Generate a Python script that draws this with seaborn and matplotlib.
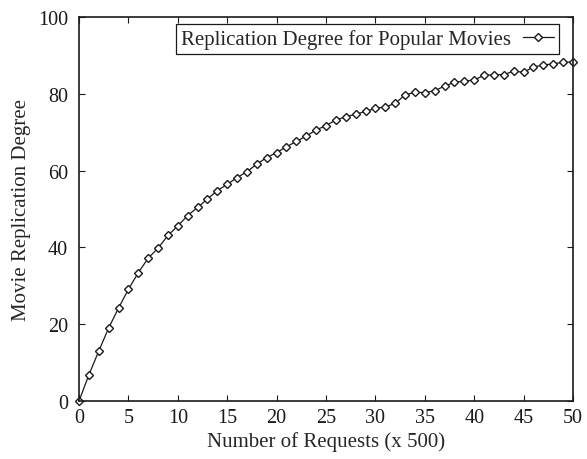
import matplotlib
matplotlib.use("Agg")
import matplotlib.pyplot as plt
import seaborn as sns
import pandas as pd

# Number of requests (in units of 500) and the resulting replication degree
requests = list(range(0, 51))
replication = [
    0.0, 6.8, 13.0, 19.0, 24.2, 29.1, 33.4, 37.2, 39.8, 43.1,
    45.6, 48.3, 50.4, 52.6, 54.8, 56.4, 58.2, 59.7, 61.7, 63.4,
    64.7, 66.2, 67.6, 69.0, 70.6, 71.7, 73.2, 74.0, 74.7, 75.4,
    76.2, 76.6, 77.5, 79.7, 80.4, 80.3, 80.8, 82.0, 83.0, 83.3,
    83.6, 84.8, 85.0, 85.0, 85.9, 85.6, 87.0, 87.5, 87.8, 88.2,
    88.3,
]
series_label = "Replication Degree for Popular Movies"

df = pd.DataFrame({"requests": requests, "replication": replication})

sns.set_style("ticks")
plt.rcParams["font.family"] = ["Liberation Serif", "DejaVu Serif"]

fig = plt.figure(figsize=(5.87, 4.60), dpi=100)
ax = fig.add_axes([79 / 587, 1 - 402 / 460, (573 - 79) / 587, (402 - 18) / 460])

sns.lineplot(
    data=df, x="requests", y="replication", ax=ax,
    color="#1a1a1a", linewidth=0.9,
    marker="D", markersize=3.8, markerfacecolor="white",
    markeredgecolor="#1a1a1a", markeredgewidth=1.0,
    label=series_label, clip_on=False,
)

ax.set_xlim(0, 50)
ax.set_ylim(0, 100)
ax.set_xticks(range(0, 51, 5))
ax.set_yticks(range(0, 101, 20))
ax.set_xlabel("Number of Requests (x 500)", fontsize=15, labelpad=3)
ax.set_ylabel("Movie Replication Degree", fontsize=15, labelpad=5)
ax.tick_params(direction="in", length=4, width=0.8, top=True, right=True,
               labelsize=14.5, colors="#1a1a1a")
ax.tick_params(axis="x", pad=5)
ax.tick_params(axis="y", pad=8)
for s in ax.spines.values():
    s.set_visible(True)
    s.set_linewidth(1.2)
    s.set_color("#1a1a1a")

leg = ax.legend(loc="upper right", markerfirst=False, fontsize=15,
                frameon=True, fancybox=False, edgecolor="#1a1a1a",
                borderpad=0.25, borderaxespad=0, handlelength=1.5,
                handletextpad=0.55, bbox_to_anchor=(0.972, 0.982))
leg.get_frame().set_linewidth(0.9)
leg.get_frame().set_alpha(1)

fig.savefig("out.png", dpi=100)
